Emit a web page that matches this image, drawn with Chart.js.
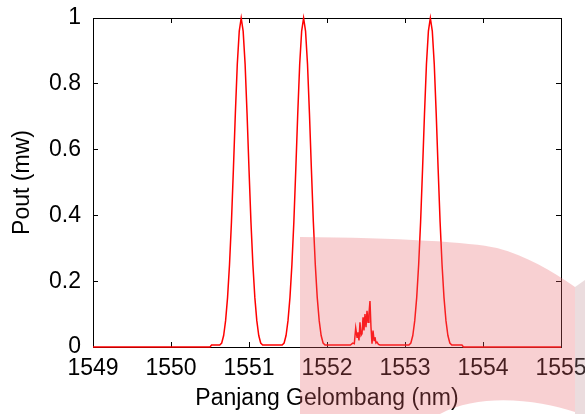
<!DOCTYPE html>
<html>
<head>
<meta charset="utf-8">
<script src="https://cdn.jsdelivr.net/npm/chart.js"></script>
<style>
  html, body { margin: 0; padding: 0; background: #fff; }
  canvas { display: block; }
</style>
</head>
<body>
<canvas id="chart" width="585" height="414"></canvas>
<script>
const xTicks = [1549, 1550, 1551, 1552, 1553, 1554, 1555];
const yTicks = [0, 0.2, 0.4, 0.6, 0.8, 1];

// spectrum pieces as [wavelength (nm), Pout (mW)]
const floorLeft = [[1549, 0], [1550.5, 0], [1550.52, 0.006], [1550.6, 0.006]];
const peak1 = [
  [1550.625, 0.006], [1550.65, 0.012], [1550.675, 0.035], [1550.7, 0.08], [1550.725, 0.15],
  [1550.75, 0.25], [1550.775, 0.38], [1550.8, 0.54], [1550.825, 0.71], [1550.85, 0.86],
  [1550.875, 0.96], [1550.9, 1], [1550.925, 0.96], [1550.95, 0.86], [1550.975, 0.71],
  [1551, 0.54], [1551.025, 0.38], [1551.05, 0.25], [1551.075, 0.15], [1551.1, 0.08],
  [1551.125, 0.035], [1551.15, 0.012], [1551.175, 0.006]
];
const peak2 = [
  [1551.425, 0.006], [1551.45, 0.012], [1551.475, 0.035], [1551.5, 0.08], [1551.525, 0.15],
  [1551.55, 0.25], [1551.575, 0.38], [1551.6, 0.54], [1551.625, 0.71], [1551.65, 0.86],
  [1551.675, 0.96], [1551.7, 1], [1551.725, 0.96], [1551.75, 0.86], [1551.775, 0.71],
  [1551.8, 0.54], [1551.825, 0.38], [1551.85, 0.25], [1551.875, 0.15], [1551.9, 0.08],
  [1551.925, 0.035], [1551.95, 0.012], [1551.975, 0.006]
];
// small noisy cluster between the second and third channel
const ripple = [
  [1552.3, 0.006], [1552.33, 0.012], [1552.35, 0.01], [1552.368, 0.058], [1552.385, 0.03],
  [1552.397, 0.045], [1552.41, 0.02], [1552.423, 0.075], [1552.436, 0.035], [1552.449, 0.04],
  [1552.462, 0.09], [1552.474, 0.05], [1552.487, 0.1], [1552.5, 0.06], [1552.513, 0.11],
  [1552.526, 0.075], [1552.538, 0.1], [1552.551, 0.14], [1552.564, 0.06], [1552.577, 0.01],
  [1552.59, 0.05], [1552.603, 0.02], [1552.615, 0.03], [1552.628, 0.012], [1552.641, 0.015],
  [1552.66, 0.008], [1552.68, 0.006]
];
const peak3 = [
  [1553.05, 0.006], [1553.075, 0.012], [1553.1, 0.035], [1553.125, 0.08], [1553.15, 0.15],
  [1553.175, 0.25], [1553.2, 0.38], [1553.225, 0.54], [1553.25, 0.71], [1553.275, 0.86],
  [1553.3, 0.96], [1553.325, 1], [1553.35, 0.96], [1553.375, 0.86], [1553.4, 0.71],
  [1553.425, 0.54], [1553.45, 0.38], [1553.475, 0.25], [1553.5, 0.15], [1553.525, 0.08],
  [1553.55, 0.035], [1553.575, 0.012], [1553.6, 0.006]
];
const floorRight = [[1553.73, 0.006], [1553.75, 0], [1555, 0]];

const spectrum = [].concat(floorLeft, peak1, peak2, ripple, peak3, floorRight)
  .map(p => ({ x: p[0], y: p[1] }));

const FONT = "'Liberation Sans', Arial, Helvetica, sans-serif";

// frame lines and short inward ticks, matlab style
const frameGrid = { display: true, drawOnChartArea: false, drawTicks: true, tickLength: -5, color: '#000', lineWidth: 1 };
const frameBorder = { display: true, color: '#000', width: 1 };

// pink wash lying over the lower right part of the figure
const wash = {
  id: 'wash',
  afterDraw(chart) {
    const ctx = chart.ctx;
    ctx.save();
    ctx.fillStyle = 'rgba(232,100,106,0.3)';
    ctx.beginPath();
    ctx.moveTo(300, 237);
    ctx.bezierCurveTo(400, 238, 470, 242, 497, 248);
    ctx.bezierCurveTo(527, 256, 552, 271, 575, 287);
    ctx.lineTo(575, 412);
    ctx.bezierCurveTo(540, 400, 480, 392, 440, 414);
    ctx.lineTo(300, 414);
    ctx.closePath();
    ctx.fill();
    ctx.fillStyle = 'rgba(190,140,145,0.3)';
    ctx.beginPath();
    ctx.moveTo(575, 287);
    ctx.lineTo(585, 280);
    ctx.lineTo(585, 414);
    ctx.lineTo(575, 414);
    ctx.closePath();
    ctx.fill();
    ctx.restore();
  }
};

new Chart(document.getElementById('chart'), {
  type: 'line',
  data: {
    datasets: [{
      data: spectrum,
      xAxisID: 'x',
      yAxisID: 'y',
      borderColor: '#ff0000',
      borderWidth: 1.5,
      pointRadius: 0,
      tension: 0,
      fill: false,
      clip: false
    }]
  },
  options: {
    responsive: false,
    animation: false,
    events: [],
    layout: { padding: { top: 18, right: 24, bottom: 0, left: 0 } },
    plugins: { legend: { display: false }, tooltip: { enabled: false } },
    scales: {
      x: {
        type: 'linear',
        position: 'bottom',
        min: 1549,
        max: 1555,
        afterBuildTicks: s => { s.ticks = xTicks.map(v => ({ value: v })); },
        afterFit: s => { s.height = 67; s.paddingLeft = 0; s.paddingRight = 0; },
        grid: frameGrid,
        border: frameBorder,
        ticks: { color: '#000', padding: 13, maxRotation: 0, autoSkip: false,
          font: { family: FONT, size: 23 }, callback: v => String(v) },
        title: { display: true, text: 'Panjang Gelombang (nm)', color: '#000',
          font: { family: FONT, size: 23 }, padding: { top: 0, bottom: 2 } }
      },
      x2: {
        type: 'linear',
        position: 'top',
        min: 1549,
        max: 1555,
        afterBuildTicks: s => { s.ticks = xTicks.map(v => ({ value: v })); },
        afterFit: s => { s.height = 0; s.paddingLeft = 0; s.paddingRight = 0; },
        grid: frameGrid,
        border: frameBorder,
        ticks: { display: false }
      },
      y: {
        type: 'linear',
        position: 'left',
        min: 0,
        max: 1,
        afterBuildTicks: s => { s.ticks = yTicks.map(v => ({ value: v })); },
        afterFit: s => { s.width = 93; s.paddingTop = 0; s.paddingBottom = 0; },
        grid: frameGrid,
        border: frameBorder,
        ticks: { color: '#000', padding: 17, font: { family: FONT, size: 23 }, callback: v => String(v) },
        title: { display: true, text: 'Pout (mw)', color: '#000',
          font: { family: FONT, size: 23 }, padding: { top: 9, bottom: 0 } }
      },
      y2: {
        type: 'linear',
        position: 'right',
        min: 0,
        max: 1,
        afterBuildTicks: s => { s.ticks = yTicks.map(v => ({ value: v })); },
        afterFit: s => { s.width = 0; s.paddingTop = 0; s.paddingBottom = 0; },
        grid: frameGrid,
        border: frameBorder,
        ticks: { display: false }
      }
    }
  },
  plugins: [wash]
});
</script>
</body>
</html>
